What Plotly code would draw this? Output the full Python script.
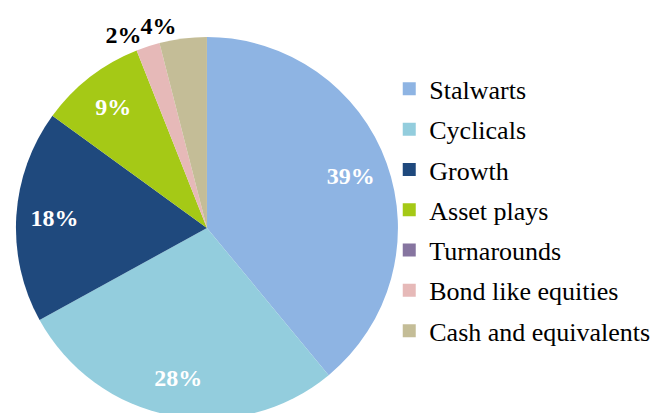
import plotly.graph_objects as go

categories = ["Stalwarts", "Cyclicals", "Growth", "Asset plays", "Turnarounds",
              "Bond like equities", "Cash and equivalents"]
shares = [39, 28, 18, 9, 0, 2, 4]
colors = ["#8EB4E3", "#93CDDD", "#1F497D", "#A5C916", "#8675A0", "#E6B9B8", "#C4BD97"]

FONT = "Liberation Serif, Times New Roman, serif"

# labels drawn by the coloured pie (only the small "Bond like" slice, outside)
text_a = [f"{v}%" if (0 < v < 3) else "" for v in shares]
pos_a = ["outside" if (0 < v < 3) else "none" for v in shares]
# labels drawn by a transparent ring pie on top (big slices inside, "Cash" outside)
text_b = [f"{v}%" if v >= 3 else "" for v in shares]
pos_b = ["inside" if v >= 5 else ("outside" if v >= 3 else "none") for v in shares]

label_font_in = dict(family=FONT, size=24, color="white", weight="bold")
label_font_out = dict(family=FONT, size=24, color="black", weight="bold")

W, H = 659, 416
ML, MT = 0, 28
DIAM = 388
dom = dict(x=[0, DIAM / (W - ML)], y=[0, 1])

fig = go.Figure()
fig.add_trace(go.Pie(
    labels=categories,
    values=shares,
    text=text_a,
    textinfo="text",
    textposition=pos_a,
    outsidetextfont=label_font_out,
    insidetextfont=label_font_in,
    marker=dict(colors=colors, line=dict(width=0)),
    sort=False,
    direction="clockwise",
    rotation=0,
    hoverinfo="skip",
    showlegend=False,
    domain=dom,
))
fig.add_trace(go.Pie(
    labels=categories,
    values=shares,
    text=text_b,
    textinfo="text",
    textposition=pos_b,
    insidetextorientation="horizontal",
    insidetextfont=label_font_in,
    outsidetextfont=label_font_out,
    hole=0.6,
    marker=dict(colors=["rgba(0,0,0,0)"] * len(shares), line=dict(width=0)),
    sort=False,
    direction="clockwise",
    rotation=0,
    hoverinfo="skip",
    showlegend=False,
    domain=dom,
))

# legend entries (one per category, so Excel-like spacing can be set)
for name, col in zip(categories, colors):
    fig.add_trace(go.Scatter(
        x=[None], y=[None], mode="markers", name=name, legendgroup=name,
        marker=dict(symbol="square", size=13, color=col, line=dict(width=0)),
        hoverinfo="skip",
    ))

fig.update_layout(
    width=W, height=H,
    margin=dict(l=ML, r=0, t=MT, b=0),
    font=dict(family=FONT, color="black"),
    paper_bgcolor="white",
    plot_bgcolor="white",
    showlegend=True,
    xaxis=dict(visible=False, domain=[0.6, 0.61]),
    yaxis=dict(visible=False),
    legend=dict(
        x=0.574, y=0.9255, xanchor="left", yanchor="top",
        font=dict(family=FONT, size=26, color="black"),
        traceorder="grouped",
        tracegroupgap=3.5,
        bgcolor="rgba(0,0,0,0)",
    ),
)

fig.write_html("out.html")
